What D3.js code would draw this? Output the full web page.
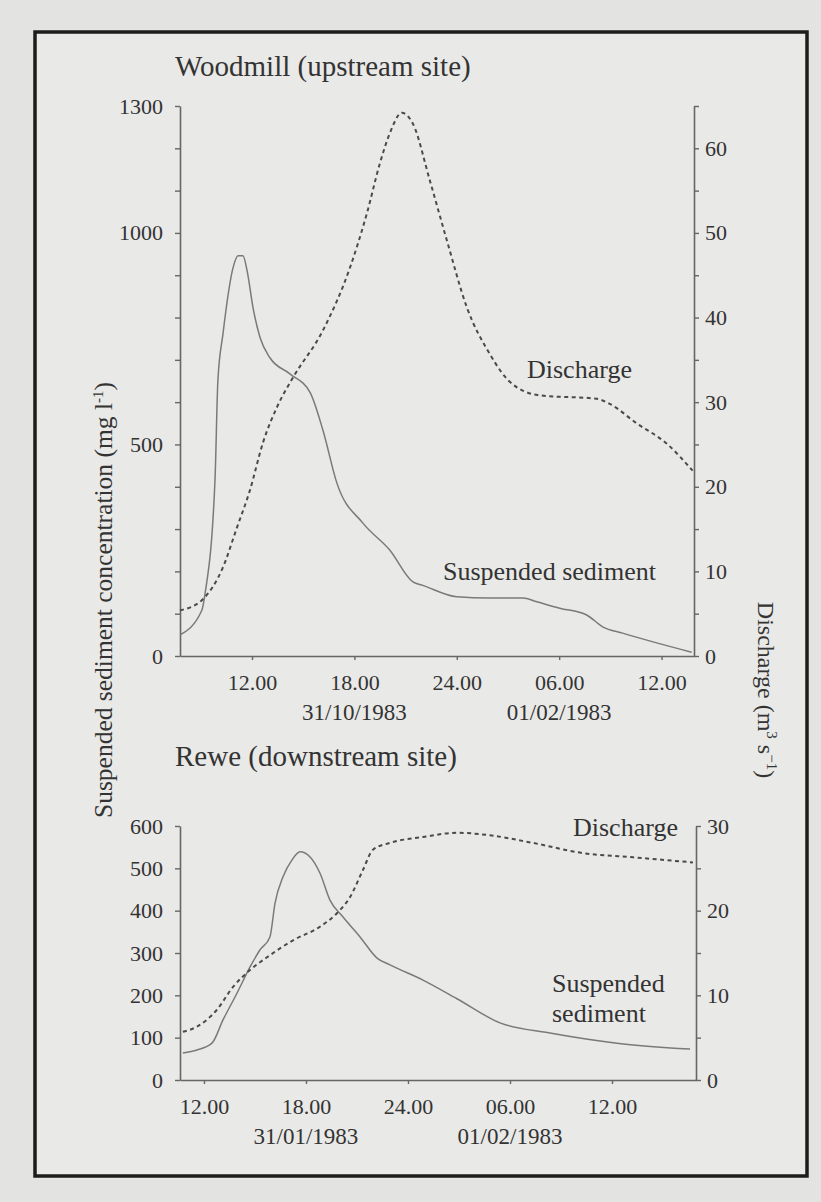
<!DOCTYPE html>
<html>
<head>
<meta charset="utf-8">
<script src="https://cdn.jsdelivr.net/npm/d3@7"></script>
<style>
  body { margin: 0; background: #e3e3e1; }
  svg { display: block; }
  text { font-family: "Liberation Serif", "DejaVu Serif", serif; fill: #333; }
</style>
</head>
<body>
<svg id="chart" width="821" height="1202"></svg>
<script>
// hours counted from 00:00 of the first day
var xTicks = [12, 18, 24, 30, 36];
var xTickLabels = ["12.00", "18.00", "24.00", "06.00", "12.00"];

// Woodmill (upstream site)
var woodSedHours = [7.78, 9.06, 9.25, 9.83, 10.0, 10.3, 10.89, 11.18, 11.47, 11.71, 12.06, 12.47, 13.05, 14.22, 15.4, 16.16, 16.98, 18.5, 20.08, 21.43, 22.01, 24.0, 25.93, 27.87, 28.69, 30.03, 31.61, 32.55, 33.72, 35.71, 37.76];
var woodSed = [50, 108, 148, 415, 651, 762, 918, 946, 946, 911, 823, 753, 705, 667, 623, 533, 408, 314, 250, 175, 167, 140, 137, 137, 128, 113, 97, 69, 54, 31, 9];
var woodQHours = [7.78, 9.06, 10.3, 11.12, 11.88, 12.64, 13.46, 14.4, 16.16, 17.74, 18.73, 19.49, 20.08, 20.78, 21.43, 22.42, 23.42, 24.59, 25.93, 27.11, 28.86, 32.2, 32.96, 34.54, 36.3, 37.82];
var woodQ = [5.4, 6.6, 10.5, 15.2, 19.6, 25.2, 29.4, 32.9, 38.5, 45.9, 52.3, 58.2, 61.8, 64.2, 62.9, 56.2, 49.1, 41.2, 35.7, 32.4, 30.8, 30.4, 29.8, 27.5, 25.1, 21.9];

// Rewe (downstream site)
var reweSedHours = [10.76, 11.59, 12.47, 13.12, 13.94, 14.71, 15.29, 15.88, 16.18, 16.65, 17.18, 17.65, 18.24, 18.82, 19.41, 20.18, 21.18, 22.18, 22.94, 24.88, 26.88, 29.41, 32.35, 36.29, 40.59];
var reweSed = [64, 71, 87, 142, 205, 267, 307, 338, 418, 480, 520, 539, 527, 489, 425, 385, 338, 288, 272, 236, 192, 135, 111, 87, 73];
var reweQHours = [10.76, 11.59, 12.76, 13.71, 14.71, 15.71, 17.24, 18.82, 19.82, 20.59, 21.35, 21.94, 22.94, 24.88, 26.88, 28.82, 31.35, 34.29, 37.24, 40.76];
var reweQ = [5.7, 6.3, 8.3, 11.0, 13.0, 14.5, 16.5, 18.1, 19.7, 21.6, 24.8, 27.2, 28.0, 28.7, 29.2, 28.9, 28.0, 26.8, 26.3, 25.7];

var svg = d3.select("#chart");

// page / frame
svg.append("rect").attr("x", 35).attr("y", 32).attr("width", 772).attr("height", 1144)
    .attr("fill", "#e9e9e7").attr("stroke", "#1c1c1c").attr("stroke-width", 3.5);

var panel = function (cfg) {
    var x = d3.scaleLinear().domain(cfg.xDomain).range([180, cfg.right]);
    var yL = d3.scaleLinear().domain(cfg.leftDomain).range([cfg.bottom, cfg.top]);
    var yR = d3.scaleLinear().domain(cfg.rightDomain).range([cfg.bottom, cfg.top]);

    var g = svg.append("g");

    var style = function (sel) {
        sel.select(".domain").attr("stroke", "#666").attr("stroke-width", 1.6);
        sel.selectAll(".tick line").attr("stroke", "#666").attr("stroke-width", 1.4);
        sel.selectAll(".tick text").attr("font-size", 22).attr("fill", "#3a3a3a")
            .attr("font-family", "Liberation Serif, serif");
    };

    g.append("g").attr("transform", "translate(0," + cfg.bottom + ")")
        .call(d3.axisBottom(x).tickValues(xTicks).tickSize(4).tickSizeOuter(0).tickPadding(14)
            .tickFormat(function (d, i) { return xTickLabels[i]; }))
        .call(style);

    g.append("g").attr("transform", "translate(180,0)")
        .call(d3.axisLeft(yL).tickValues(d3.range(0, cfg.leftDomain[1] + 1, 100)).tickSize(5).tickSizeOuter(0).tickPadding(12)
            .tickFormat(function (d) { return cfg.leftLabels.indexOf(d) >= 0 ? d : ""; }))
        .call(style);

    g.append("g").attr("transform", "translate(" + cfg.right + ",0)")
        .call(d3.axisRight(yR).tickValues(d3.range(0, cfg.rightDomain[1] + 0.1, 5)).tickSize(5).tickSizeOuter(0).tickPadding(6)
            .tickFormat(function (d) { return d % 10 == 0 ? d : ""; }))
        .call(style);

    var sed = d3.line().x(function (d) { return x(d[0]); }).y(function (d) { return yL(d[1]); })
        .curve(d3.curveMonotoneX);
    var dis = d3.line().x(function (d) { return x(d[0]); }).y(function (d) { return yR(d[1]); })
        .curve(d3.curveMonotoneX);

    g.append("path").datum(d3.zip(cfg.sedHours, cfg.sed))
        .attr("fill", "none").attr("stroke", "#7a7a7a").attr("stroke-width", 1.5).attr("d", sed);
    g.append("path").datum(d3.zip(cfg.qHours, cfg.q))
        .attr("fill", "none").attr("stroke", "#4a4a4a").attr("stroke-width", 2)
        .attr("stroke-dasharray", "4,3.5").attr("d", dis);

    g.append("text").attr("x", 175).attr("y", cfg.titleY).attr("font-size", 29).text(cfg.title);

    cfg.dates.forEach(function (dt) {
        g.append("text").attr("x", x(dt[0])).attr("y", cfg.bottom + 64).attr("text-anchor", "middle")
            .attr("font-size", 23).text(dt[1]);
    });

    cfg.notes.forEach(function (n) {
        g.append("text").attr("x", n[0]).attr("y", n[1]).attr("font-size", 26).text(n[2]);
    });
};

panel({
    title: "Woodmill (upstream site)", titleY: 76,
    xDomain: [7.78, 37.9], right: 694, top: 106, bottom: 656,
    leftDomain: [0, 1300], leftLabels: [0, 500, 1000, 1300], rightDomain: [0, 65],
    sedHours: woodSedHours, sed: woodSed, qHours: woodQHours, q: woodQ,
    dates: [[18, "31/10/1983"], [30, "01/02/1983"]],
    notes: [[527, 378, "Discharge"], [443, 580, "Suspended sediment"]]
});

panel({
    title: "Rewe (downstream site)", titleY: 766,
    xDomain: [10.59, 40.94], right: 696, top: 826, bottom: 1080,
    leftDomain: [0, 600], leftLabels: [0, 100, 200, 300, 400, 500, 600], rightDomain: [0, 30],
    sedHours: reweSedHours, sed: reweSed, qHours: reweQHours, q: reweQ,
    dates: [[18, "31/01/1983"], [30, "01/02/1983"]],
    notes: [[573, 836, "Discharge"], [552, 992, "Suspended"], [552, 1022, "sediment"]]
});

// shared axis titles
var lt = svg.append("text").attr("transform", "translate(112,600) rotate(-90)")
    .attr("text-anchor", "middle").attr("font-size", 25.5);
lt.append("tspan").text("Suspended sediment concentration (mg l");
lt.append("tspan").attr("font-size", 15).attr("dy", -9).text("-1");
lt.append("tspan").attr("dy", 9).text(")");

var rt = svg.append("text").attr("transform", "translate(758,690) rotate(90)")
    .attr("text-anchor", "middle").attr("font-size", 24);
rt.append("tspan").text("Discharge (m");
rt.append("tspan").attr("font-size", 15).attr("dy", -9).text("3");
rt.append("tspan").attr("dy", 9).text(" s");
rt.append("tspan").attr("font-size", 15).attr("dy", -9).text("\u22121");
rt.append("tspan").attr("dy", 9).text(")");
</script>
</body>
</html>
